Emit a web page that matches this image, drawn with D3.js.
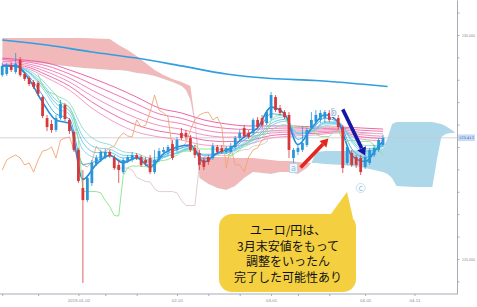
<!DOCTYPE html>
<html>
<head>
<meta charset="utf-8">
<script src="https://cdn.jsdelivr.net/npm/d3@7"></script>
<style>
html, body { margin: 0; padding: 0; background: #fff; }
svg { display: block; font-family: "DejaVu Sans", sans-serif; }
</style>
</head>
<body>
<svg id="chart" width="477" height="307"></svg>
<script>
// EUR/JPY daily, Dec 2018 - Apr 2019 (bar index 0..85)
const opens = [128.21,128.26,128.62,128.35,128.88,128.26,128.08,127.90,127.86,127.23,126.29,126.03,125.76,126.29,126.88,126.21,125.67,124.87,123.17,122.63,
  123.39,124.24,124.42,124.55,124.78,124.51,124.20,123.88,124.38,124.42,124.64,124.55,124.42,124.51,123.88,124.42,124.78,124.78,125.13,124.87,
  125.63,125.63,125.40,124.96,124.73,124.42,124.55,124.51,125.00,124.96,124.78,124.78,125.00,125.40,125.85,125.63,125.63,126.21,126.29,126.07,
  126.29,127.23,126.74,126.56,126.43,124.51,124.78,124.87,125.09,125.85,126.12,126.21,126.29,126.52,126.56,126.29,125.89,124.29,124.73,124.55,
  124.51,124.11,124.29,124.64,124.87,125.09];
const highs = [128.75,128.75,128.79,129.20,129.02,128.35,128.17,127.99,127.95,127.32,126.43,126.21,126.43,127.10,126.96,126.29,125.76,124.96,123.97,123.71,
  124.42,124.64,124.87,124.91,124.87,124.64,124.42,124.51,124.64,124.78,124.73,124.64,124.55,124.64,124.87,124.96,125.00,125.09,125.31,125.45,
  125.85,125.76,125.54,125.09,124.87,124.55,124.64,125.18,125.09,125.09,125.04,125.18,125.49,125.76,125.98,125.76,126.29,126.34,126.43,126.65,
  127.46,127.32,126.88,126.65,126.56,124.96,125.09,125.89,125.85,126.56,126.65,126.65,126.65,126.65,126.74,126.43,125.98,125.09,124.87,124.64,
  124.64,124.64,124.96,125.09,125.40,125.54];
const lows = [128.13,128.17,128.35,128.26,128.13,127.95,127.72,127.59,127.28,126.29,125.71,125.63,125.67,126.21,126.16,125.58,124.78,123.39,118.93,122.54,
  123.26,124.15,124.33,124.46,124.51,123.97,123.39,123.79,124.29,124.33,124.42,124.11,124.15,123.79,123.79,124.33,124.64,124.64,124.42,124.78,
  125.31,125.31,124.78,124.51,123.97,123.97,124.20,124.42,124.69,124.69,124.69,124.69,124.91,125.31,125.40,125.36,125.54,125.80,125.85,125.98,
  126.21,126.56,126.43,126.25,124.51,124.29,124.64,124.78,125.00,125.76,125.98,126.07,126.07,126.12,126.25,125.76,123.84,124.20,124.11,124.06,
  123.75,124.02,124.20,124.55,124.78,125.00];
const closes = [128.62,128.62,128.44,128.71,128.21,128.04,127.81,127.68,127.37,126.38,125.89,125.76,126.29,126.92,126.25,125.71,124.87,123.48,122.63,123.62,
  124.29,124.51,124.78,124.78,124.60,124.06,123.97,124.42,124.55,124.64,124.51,124.20,124.29,123.88,124.42,124.82,124.87,125.00,124.51,125.31,
  125.40,125.45,124.87,124.64,124.20,124.11,124.33,125.04,124.78,124.78,124.96,125.04,125.40,125.63,125.49,125.45,126.21,125.89,125.98,126.56,
  127.32,126.65,126.52,126.34,124.87,124.87,124.96,125.18,125.76,126.21,126.43,126.52,126.56,126.21,126.34,125.89,124.06,125.00,124.20,124.20,
  123.88,124.55,124.87,124.96,125.31,125.41];
const lastPrice = 125.412;

// short-term GMMA (sampled every 3 bars)
const shortIdx = [0,3,6,9,12,15,18,21,24,27,30,33,36,39,42,45,48,51,54,57,60,63,66,69,72,75,78,81,84,85];
const ema3  = [128.62,128.62,128.02,127.00,126.20,126.06,123.55,124.22,124.62,124.29,124.52,124.10,124.70,125.00,125.09,124.32,124.73,124.95,125.45,125.86,126.78,126.48,125.11,125.83,126.44,126.11,124.62,124.35,125.05,125.25];
const ema5  = [128.62,128.61,128.15,127.31,126.48,126.26,124.22,124.37,124.62,124.34,124.50,124.19,124.61,124.88,125.04,124.46,124.71,124.88,125.32,125.71,126.48,126.41,125.34,125.76,126.29,126.11,124.92,124.53,124.97,125.13];
const ema8  = [128.62,128.60,128.28,127.62,126.77,126.46,124.88,124.53,124.62,124.39,124.48,124.28,124.52,124.76,124.99,124.61,124.68,124.82,125.19,125.55,126.18,126.34,125.58,125.70,126.13,126.12,125.22,124.71,124.91,125.03];
const ema10 = [128.62,128.60,128.32,127.73,126.94,126.62,125.20,124.75,124.76,124.51,124.55,124.35,124.54,124.74,124.95,124.63,124.69,124.81,125.13,125.48,126.05,126.23,125.59,125.69,126.08,126.09,125.30,124.81,124.95,125.05];
const ema12 = [128.62,128.60,128.35,127.82,127.09,126.75,125.46,124.97,124.90,124.63,124.61,124.41,124.55,124.73,124.92,124.65,124.69,124.79,125.09,125.41,125.94,126.15,125.61,125.68,126.03,126.05,125.38,124.92,124.99,125.08];
const ema15 = [128.62,128.60,128.41,127.97,127.32,126.96,125.83,125.29,125.10,124.79,124.71,124.51,124.58,124.71,124.87,124.68,124.70,124.78,125.02,125.30,125.75,126.00,125.63,125.67,125.95,126.00,125.48,125.07,125.07,125.11];

// long-term GMMA (sampled every 5 bars)
const longIdx = [0,5,10,15,20,25,30,35,40,45,50,55,60,65,70,75,80,85];
const ema60 = [128.97,128.88,128.75,128.44,128.08,127.68,127.23,126.74,126.52,126.21,126.03,125.94,125.94,125.94,125.89,125.89,125.85,125.80];
const ema50 = [128.90,128.81,128.62,128.26,127.81,127.37,126.92,126.48,126.28,125.98,125.83,125.78,125.83,125.85,125.82,125.84,125.75,125.70];
const ema45 = [128.83,128.74,128.48,128.08,127.54,127.05,126.61,126.22,126.04,125.76,125.63,125.62,125.72,125.76,125.75,125.79,125.65,125.59];
const ema40 = [128.76,128.67,128.35,127.90,127.28,126.74,126.29,125.96,125.79,125.54,125.44,125.46,125.62,125.67,125.68,125.73,125.55,125.48];
const ema35 = [128.69,128.60,128.21,127.72,127.01,126.43,125.98,125.71,125.55,125.31,125.24,125.29,125.51,125.58,125.61,125.68,125.46,125.38];
const ema30 = [128.62,128.53,128.08,127.54,126.74,126.12,125.67,125.45,125.31,125.09,125.04,125.13,125.40,125.49,125.54,125.63,125.36,125.27];

// 200-day moving average
const ma200Idx = [0,10,20,30,40,50,60,70,80,86];
const ma200 = [129.78,129.55,129.24,128.97,128.62,128.26,128.06,127.97,127.81,127.70];

// Ichimoku
const tenkanStart = 8;
const tenkan = [128.24,127.75,127.46,127.41,127.32,126.99,126.90,126.79,126.36,125.36,123.01,123.01,123.01,123.01,122.95,122.61,122.34,121.94,121.92,123.73,
  124.08,124.15,124.15,124.15,124.13,124.08,124.13,124.38,124.40,124.44,124.55,124.62,124.82,124.82,124.82,125.09,124.91,124.91,124.91,124.91,124.91,
  124.87,124.75,124.58,124.73,124.87,125.09,125.20,125.49,125.51,125.56,125.67,126.18,126.38,126.41,126.41,125.98,125.87,125.87,125.87,125.87,
  125.80,125.58,125.47,125.47,125.47,125.69,125.76,125.29,125.29,125.29,125.29,125.25,125.25,125.25,125.09,124.87,124.64];
const kijunStart = 25;
const kijun = [124.06,124.06,124.06,124.06,123.97,123.64,123.55,123.46,123.44,123.13,123.01,123.01,123.01,123.01,122.95,122.61,122.39,122.39,122.39,124.20,
  124.55,124.62,124.62,124.62,124.62,124.62,124.62,124.82,124.82,124.89,124.89,125.04,125.07,125.11,125.22,
  125.71,125.71,125.71,125.71,125.71,125.71,125.71,125.71,125.71,125.71,125.71,125.83,125.87,125.87,125.87,125.87,125.65,125.65,125.65,125.65,
  125.60,125.60,125.60,125.60,125.60,125.60];
const chikouShift = 26;
const cloudIdx = [0,6,12,18,24,26,28,30,32,34,36,38,40,41,42,43,44,46,48,50,52,54,56,58,60,62,64,66,68,69,70,72,76,80,84,85,86,87,88,92,96,97,98,99,100,101];
const spanA = [128.88,128.79,128.66,128.53,128.44,128.44,128.39,128.30,128.26,128.17,128.04,127.90,127.72,127.54,127.10,125.98,123.62,123.35,123.17,123.08,
  123.26,123.62,123.88,123.84,123.79,123.88,123.88,123.79,124.06,124.29,124.78,124.82,124.82,124.87,124.91,124.96,125.40,126.03,126.12,126.12,126.12,
  126.07,126.03,125.94,125.80,125.67];
const spanB = [129.87,129.87,129.87,129.87,129.82,129.55,129.33,129.06,128.75,128.44,128.21,128.04,127.90,127.81,127.72,126.21,124.55,124.55,124.55,124.55,
  124.51,124.51,124.51,124.46,124.42,124.38,124.38,124.33,124.29,124.29,124.29,124.24,124.20,124.11,123.93,123.88,123.79,123.62,123.26,123.21,123.21,
  124.42,125.45,125.58,125.63,125.63];

// axes
const yTicks = [119,120,121,122,123,124,125,126,127,128,129,130,131];
const xTicks = [0,8,17,23,30,39,46,53,60,66,73,81,92];
const xLabelIdx = [17,39,60,81,92];
const xLabels = ["2019-01-02","02-01","03-01","04-01","04-11"];

// annotations
const markIdx = [65,74,80];
const markPrice = [124.06,126.56,123.17];
const markText = ["a","b","c"];
const markFrame = ["box","none","circle"];
const noteLines = ["ユーロ/円は、","3月末安値をもって","調整をいったん","完了した可能性あり"];

const plotW = 457, plotH = 294;
const x = d3.scaleLinear().domain([-0.5, 101.5]).range([0, plotW]);
const y = d3.scaleLinear().domain([118.4375, 131.5625]).range([plotH, 0]);

const svg = d3.select("#chart");
const defs = svg.append("defs");
defs.append("clipPath").attr("id", "plot")
  .append("rect").attr("width", plotW).attr("height", plotH);

const g = svg.append("g").attr("clip-path", "url(#plot)");

// cloud
const cloud = cloudIdx.map((d, k) => ({ i: d, a: spanA[k], b: spanB[k] }));
const areaAB = d3.area().x(d => x(d.i)).y0(d => y(d.a)).y1(d => y(d.b));
defs.append("clipPath").attr("id", "aboveA").append("path")
  .attr("d", d3.area().x(d => x(d.i)).y0(0).y1(d => y(d.a))(cloud));
defs.append("clipPath").attr("id", "belowA").append("path")
  .attr("d", d3.area().x(d => x(d.i)).y0(plotH).y1(d => y(d.a))(cloud));
g.append("path").attr("d", areaAB(cloud)).attr("fill", "#f2b9bb").attr("clip-path", "url(#aboveA)");
g.append("path").attr("d", areaAB(cloud)).attr("fill", "#acd8e9").attr("clip-path", "url(#belowA)");

// last price line
g.append("line")
  .attr("x1", 0).attr("x2", plotW)
  .attr("y1", y(lastPrice)).attr("y2", y(lastPrice))
  .attr("stroke", "#c9c9d2").attr("stroke-width", 0.8);

const line = d3.line().x(d => x(d[0])).y(d => y(d[1])).curve(d3.curveMonotoneX);
const stepLine = d3.line().x(d => x(d[0])).y(d => y(d[1]));
const zipIdx = (idx, vals) => idx.map((d, k) => [d, vals[k]]);

function drawLine(pts, color, width, gen) {
  g.append("path").attr("d", (gen || line)(pts))
    .attr("fill", "none").attr("stroke", color).attr("stroke-width", width);
}

// 200 MA
drawLine(zipIdx(ma200Idx, ma200), "#2f9fe0", 1.6);

// long GMMA
const longSet = [ema60, ema50, ema45, ema40, ema35, ema30];
const longColors = ["#e9559e", "#ee67a8", "#f076b2", "#f285bb", "#ea5fa4", "#f391c2"];
longSet.forEach((s, k) => drawLine(zipIdx(longIdx, s), longColors[k], 0.9));

// kijun
drawLine(kijun.map((v, k) => [k + kijunStart, v]), "#dcc7cc", 0.9, stepLine);

// chikou: close shifted back 26 bars
drawLine(closes.slice(chikouShift).map((v, k) => [k, v]), "#f2a574", 0.9, stepLine);

// short GMMA
const shortSet = [ema15, ema12, ema10, ema8, ema5, ema3];
const shortColors = ["#8ad8d6", "#72cfe0", "#5cc4ea", "#7fd0f2", "#3fb2ea", "#1e8ee0"];
const shortW = [0.9, 0.9, 0.9, 0.9, 1, 1.6];
shortSet.forEach((s, k) => drawLine(zipIdx(shortIdx, s), shortColors[k], shortW[k]));

// tenkan
drawLine(tenkan.map((v, k) => [k + tenkanStart, v]), "#86e486", 0.9, stepLine);

// candles
const bars = d3.range(closes.length);
const bw = (x(1) - x(0)) * 0.62;
const up = "#2b95d8", down = "#d8373a";
const col = i => closes[i] >= opens[i] ? up : down;
g.selectAll(".wick").data(bars).join("line")
  .attr("x1", i => x(i)).attr("x2", i => x(i))
  .attr("y1", i => y(highs[i])).attr("y2", i => y(lows[i]))
  .attr("stroke", col).attr("stroke-width", 0.8);
g.selectAll(".body").data(bars).join("rect")
  .attr("x", i => x(i) - bw / 2).attr("width", bw)
  .attr("y", i => y(Math.max(opens[i], closes[i])))
  .attr("height", i => Math.max(1, Math.abs(y(opens[i]) - y(closes[i]))))
  .attr("fill", col);

// axes
const ax = svg.append("g");
const yAxis = ax.append("g").attr("transform", `translate(${plotW},0)`)
  .call(d3.axisRight(y).tickValues(yTicks).tickSize(2.5).tickSizeOuter(0).tickPadding(2.5)
    .tickFormat(d => d % 10 === 0 ? d3.format(".3f")(d) : ""));
const xAxis = ax.append("g").attr("transform", `translate(0,${plotH})`)
  .call(d3.axisBottom(x).tickValues(xTicks).tickSize(2).tickSizeOuter(0).tickPadding(3)
    .tickFormat(d => { const k = xLabelIdx.indexOf(d); return k < 0 ? "" : xLabels[k]; }));
[yAxis, xAxis].forEach(a => {
  a.select(".domain").attr("stroke", "#a9aab6");
  a.selectAll(".tick line").attr("stroke", "#a9aab6");
  a.selectAll("text").attr("fill", "#8a8a8a").attr("font-size", 4.4);
});
yAxis.selectAll("text").attr("font-size", 3.6);
xAxis.select(".domain").attr("d", `M0,0H${plotW}`);

// last price tag
const tag = svg.append("g").attr("transform", `translate(${plotW + 1},${y(lastPrice)})`);
tag.append("rect").attr("x", 0).attr("y", -3.4).attr("width", 17).attr("height", 6.8).attr("fill", "#c9dcf6");
tag.append("text").attr("x", 8.5).attr("y", 0).attr("dy", "0.35em").attr("text-anchor", "middle")
  .attr("font-size", 3.6).attr("fill", "#3a5f9a").text(d3.format(".3f")(lastPrice));

// arrows
function arrow(i0, p0, i1, p1, color, w, head) {
  const xa = x(i0), ya = y(p0), xb = x(i1), yb = y(p1);
  const ang = Math.atan2(yb - ya, xb - xa);
  const bx = xb - Math.cos(ang) * head, by = yb - Math.sin(ang) * head;
  svg.append("line").attr("x1", xa).attr("y1", ya).attr("x2", bx).attr("y2", by)
    .attr("stroke", color).attr("stroke-width", w);
  const nx = -Math.sin(ang) * head * 0.6, ny = Math.cos(ang) * head * 0.6;
  svg.append("path").attr("d", `M${xb},${yb}L${bx + nx},${by + ny}L${bx - nx},${by - ny}Z`).attr("fill", color);
}
arrow(66.6, 124.08, 72.8, 125.38, "#e5261f", 3.6, 8);
arrow(76.0, 126.68, 81.0, 124.62, "#1616a6", 3.6, 8);

// a b c labels
const marks = svg.selectAll(".mark").data(markText).join("g")
  .attr("transform", (d, k) => `translate(${x(markIdx[k])},${y(markPrice[k])})`);
marks.filter((d, k) => markFrame[k] === "box").append("rect")
  .attr("x", -4).attr("y", -4.5).attr("width", 8).attr("height", 9)
  .attr("fill", "#eef6fb").attr("stroke", "#9ccbe8").attr("stroke-width", 0.6);
marks.filter((d, k) => markFrame[k] === "circle").append("circle")
  .attr("r", 4.5).attr("fill", "#fff").attr("stroke", "#9ccbe8").attr("stroke-width", 0.6);
marks.append("text")
  .attr("dy", "0.35em").attr("text-anchor", "middle")
  .attr("font-size", (d, k) => markFrame[k] === "none" ? 10 : 8).attr("fill", "#86c0e4")
  .attr("stroke", "#fff").attr("stroke-width", (d, k) => markFrame[k] === "none" ? 2.2 : 0)
  .attr("paint-order", "stroke")
  .text(d => d);

// callout
const note = svg.append("g");
note.append("path").attr("d", "M328,218L353,218L347,192Z").attr("fill", "#f4d041");
note.append("rect").attr("x", 219).attr("y", 214).attr("width", 137).attr("height", 78).attr("rx", 13)
  .attr("fill", "#f4d041");
note.selectAll("text").data(noteLines).join("text")
  .attr("x", 288).attr("y", (d, k) => 235 + k * 15.5)
  .attr("text-anchor", "middle").attr("font-size", 12)
  .attr("font-family", "'Noto Sans CJK JP', sans-serif").attr("fill", "#111")
  .text(d => d);
</script>
</body>
</html>
